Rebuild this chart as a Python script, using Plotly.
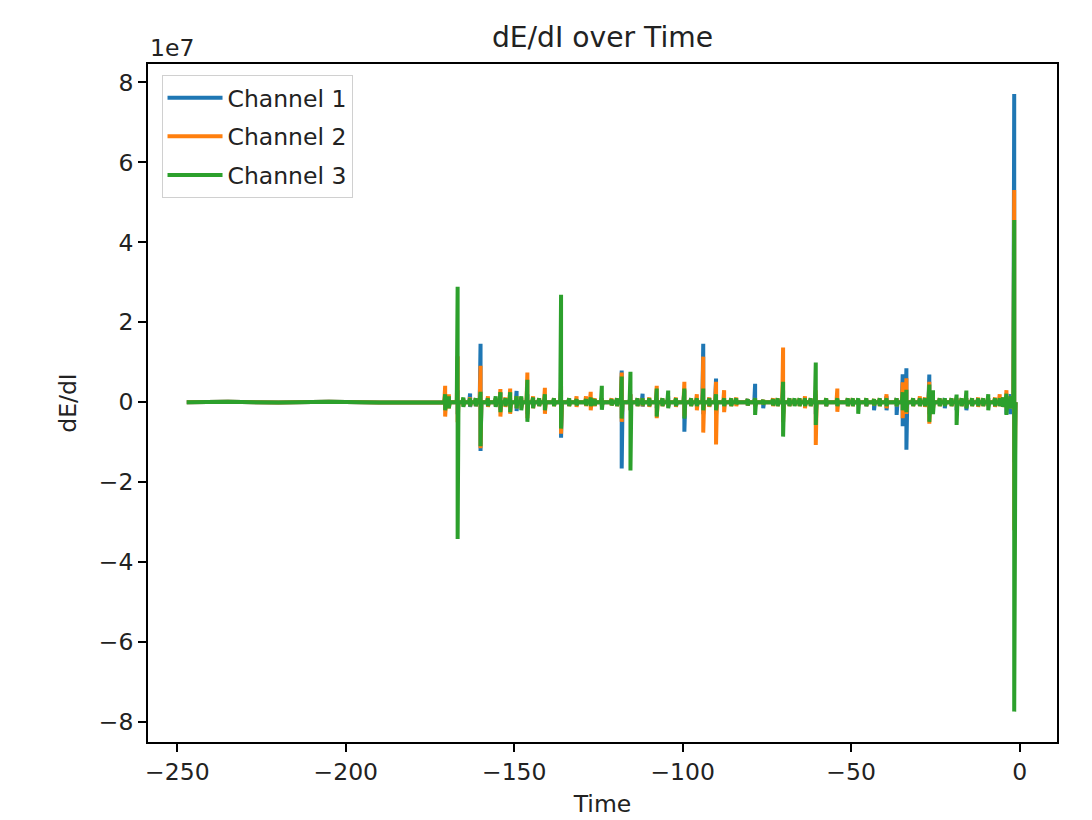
import plotly.graph_objects as go

SCALE = 1e7

# Quiet segment before activity (time, value in 1e7 units, all channels)
quiet_t = [-247.2, -235.0, -220.0, -205.0, -190.0, -178.0, -172.0]
quiet_v = [0.0, 0.01, -0.01, 0.01, -0.01, 0.01, 0.0]

# Spike events: times and per-channel (high, low) excursions in units of 1e7
spike_t = [-170.5, -169.4, -166.8, -165.1, -163.1, -161.4, -160.0, -157.8, -155.5, -154.1,
           -152.6, -151.2, -149.3, -147.9, -146.1, -144.4, -142.6, -140.9, -138.2, -136.1,
           -133.7, -131.5, -128.7, -127.3, -126.1, -124.0, -121.1, -119.5, -118.1, -115.5,
           -113.4, -111.9, -109.9, -107.7, -106.0, -104.3, -102.0, -99.5, -97.5, -95.8,
           -93.9, -92.1, -90.1, -87.7, -85.6, -84.1, -80.7, -78.5, -76.1, -73.2,
           -71.8, -70.2, -68.3, -66.8, -65.3, -63.7, -62.0, -60.5, -57.4, -54.1,
           -51.0, -49.5, -47.9, -45.5, -43.2, -41.5, -39.5, -36.5, -34.7, -33.6,
           -31.6, -29.6, -28.1, -26.8, -25.7, -23.7, -22.2, -20.2, -18.7, -17.2,
           -15.8, -14.1, -12.3, -10.8, -9.3, -7.3, -5.9, -4.9, -3.9, -2.6,
           -1.6]

ch1_hi = [0.10, 0.15, 0.30, 0.08, 0.22, 0.10, 1.46, 0.10, 0.08, 0.25,
          0.08, 0.10, 0.28, 0.10, 0.20, 0.10, 0.08, 0.10, 0.08, 0.30,
          0.08, 0.06, 0.06, 0.10, 0.06, 0.10, 0.06, 0.08, 0.79, 0.20,
          0.08, 0.21, 0.08, 0.10, 0.08, 0.15, 0.08, 0.30, 0.08, 0.10,
          1.46, 0.10, 0.59, 0.10, 0.08, 0.06, 0.08, 0.46, 0.05, 0.06,
          0.08, 0.30, 0.08, 0.06, 0.08, 0.08, 0.08, 0.20, 0.08, 0.08,
          0.08, 0.08, 0.06, 0.08, 0.05, 0.08, 0.15, 0.10, 0.70, 0.85,
          0.08, 0.08, 0.10, 0.69, 0.10, 0.08, 0.10, 0.08, 0.10, 0.08,
          0.10, 0.08, 0.08, 0.08, 0.10, 0.08, 0.08, 0.10, 0.15, 0.20,
          7.71]
ch1_lo = [-0.10, -0.10, -0.30, -0.08, -0.12, -0.10, -1.22, -0.10, -0.08, -0.20,
          -0.08, -0.10, -0.22, -0.10, -0.30, -0.10, -0.08, -0.10, -0.08, -0.89,
          -0.08, -0.06, -0.06, -0.05, -0.06, -0.10, -0.06, -0.08, -1.66, -0.20,
          -0.08, -0.11, -0.08, -0.15, -0.08, -0.11, -0.10, -0.74, -0.08, -0.10,
          -0.30, -0.10, -0.30, -0.10, -0.08, -0.06, -0.08, -0.10, -0.15, -0.06,
          -0.08, -0.30, -0.08, -0.06, -0.08, -0.08, -0.08, -0.30, -0.10, -0.08,
          -0.08, -0.08, -0.06, -0.10, -0.20, -0.08, -0.20, -0.32, -0.60, -1.19,
          -0.08, -0.08, -0.10, -0.30, -0.10, -0.08, -0.15, -0.08, -0.20, -0.08,
          -0.20, -0.08, -0.08, -0.08, -0.10, -0.08, -0.08, -0.10, -0.30, -0.30,
          -1.50]

ch2_hi = [0.41, 0.20, 1.15, 0.10, 0.12, 0.10, 0.91, 0.15, 0.10, 0.33,
          0.12, 0.34, 0.15, 0.12, 0.74, 0.15, 0.10, 0.36, 0.10, 0.40,
          0.10, 0.15, 0.15, 0.26, 0.10, 0.10, 0.10, 0.10, 0.74, 0.20,
          0.10, 0.10, 0.12, 0.41, 0.10, 0.10, 0.12, 0.51, 0.10, 0.20,
          1.14, 0.12, 0.51, 0.30, 0.10, 0.12, 0.08, 0.10, 0.06, 0.10,
          0.10, 1.37, 0.10, 0.08, 0.10, 0.15, 0.10, 0.30, 0.10, 0.34,
          0.10, 0.10, 0.08, 0.10, 0.08, 0.10, 0.20, 0.10, 0.50, 0.60,
          0.10, 0.15, 0.12, 0.51, 0.15, 0.10, 0.08, 0.10, 0.10, 0.10,
          0.10, 0.10, 0.12, 0.10, 0.10, 0.12, 0.20, 0.12, 0.30, 0.15,
          5.31]
ch2_lo = [-0.36, -0.15, -0.50, -0.10, -0.10, -0.10, -1.15, -0.12, -0.10, -0.36,
          -0.12, -0.29, -0.15, -0.15, -0.40, -0.15, -0.10, -0.29, -0.10, -0.79,
          -0.10, -0.12, -0.10, -0.20, -0.10, -0.10, -0.08, -0.10, -0.49, -0.20,
          -0.10, -0.10, -0.12, -0.40, -0.10, -0.10, -0.12, -0.35, -0.10, -0.20,
          -0.76, -0.12, -1.06, -0.25, -0.10, -0.10, -0.08, -0.10, -0.06, -0.10,
          -0.10, -0.50, -0.10, -0.08, -0.10, -0.15, -0.10, -1.07, -0.10, -0.24,
          -0.10, -0.10, -0.08, -0.10, -0.08, -0.10, -0.15, -0.10, -0.40, -0.29,
          -0.10, -0.10, -0.12, -0.54, -0.15, -0.10, -0.08, -0.10, -0.10, -0.10,
          -0.10, -0.10, -0.12, -0.10, -0.10, -0.12, -0.10, -0.12, -0.15, -0.15,
          -3.20]

ch3_hi = [0.20, 0.15, 2.89, 0.12, 0.10, 0.10, 0.26, 0.10, 0.15, 0.25,
          0.10, 0.25, 0.15, 0.15, 0.56, 0.12, 0.10, 0.20, 0.10, 2.69,
          0.10, 0.08, 0.08, 0.12, 0.08, 0.41, 0.08, 0.10, 0.64, 0.76,
          0.10, 0.10, 0.10, 0.34, 0.10, 0.29, 0.10, 0.34, 0.10, 0.10,
          0.34, 0.10, 0.20, 0.10, 0.10, 0.10, 0.08, 0.10, 0.06, 0.08,
          0.10, 0.51, 0.10, 0.10, 0.10, 0.10, 0.10, 0.99, 0.10, 0.10,
          0.10, 0.10, 0.10, 0.10, 0.08, 0.10, 0.10, 0.10, 0.25, 0.31,
          0.10, 0.10, 0.10, 0.44, 0.30, 0.10, 0.10, 0.10, 0.19, 0.10,
          0.29, 0.10, 0.10, 0.10, 0.20, 0.10, 0.10, 0.12, 0.21, 0.15,
          4.56]
ch3_lo = [-0.20, -0.15, -3.42, -0.12, -0.10, -0.10, -1.10, -0.10, -0.12, -0.25,
          -0.10, -0.25, -0.15, -0.20, -0.49, -0.15, -0.10, -0.20, -0.10, -0.66,
          -0.10, -0.08, -0.08, -0.10, -0.08, -0.19, -0.08, -0.10, -0.41, -1.71,
          -0.10, -0.08, -0.10, -0.36, -0.10, -0.15, -0.10, -0.41, -0.10, -0.10,
          -0.20, -0.10, -0.20, -0.10, -0.10, -0.05, -0.08, -0.32, -0.06, -0.08,
          -0.10, -0.86, -0.10, -0.10, -0.10, -0.10, -0.10, -0.57, -0.10, -0.10,
          -0.10, -0.10, -0.29, -0.10, -0.08, -0.10, -0.10, -0.10, -0.20, -0.25,
          -0.10, -0.10, -0.10, -0.49, -0.30, -0.10, -0.10, -0.10, -0.57, -0.10,
          -0.16, -0.10, -0.10, -0.10, -0.20, -0.10, -0.10, -0.12, -0.32, -0.15,
          -7.74]

end_t = -1.2

y_tickvals = [-8, -6, -4, -2, 0, 2, 4, 6, 8]
y_ticktext = ["\u22128", "\u22126", "\u22124", "\u22122", "0", "2", "4", "6", "8"]
x_tickvals = [-250, -200, -150, -100, -50, 0]
x_ticktext = ["\u2212250", "\u2212200", "\u2212150", "\u2212100", "\u221250", "0"]

names = ["Channel 1", "Channel 2", "Channel 3"]
colors = ["#1f77b4", "#ff7f0e", "#2ca02c"]
series = [(ch1_hi, ch1_lo), (ch2_hi, ch2_lo), (ch3_hi, ch3_lo)]


def build_path(hi, lo):
    xs = list(quiet_t)
    ys = [v * SCALE for v in quiet_v]
    for t, h, l in zip(spike_t, hi, lo):
        xs += [t - 0.25, t, t, t + 0.25]
        ys += [0.0, h * SCALE, l * SCALE, 0.0]
    xs.append(end_t)
    ys.append(0.0)
    return xs, ys


FONT = "DejaVu Sans"
FS = 23.5
fig = go.Figure()
for name, col, (hi, lo) in zip(names, colors, series):
    xs, ys = build_path(hi, lo)
    fig.add_trace(go.Scatter(x=xs, y=ys, mode="lines", name=name, legendgroup=name,
                             line=dict(color=col, width=4)))

axis_common = dict(showgrid=False, zeroline=False, showline=True, linecolor="black",
                   linewidth=1.7, mirror=True, ticks="outside", ticklen=8, tickwidth=1.7,
                   tickcolor="black", tickfont=dict(family=FONT, size=FS, color="#222"),
                   automargin=False)

fig.update_layout(
    width=1092, height=820,
    margin=dict(l=148, r=35, t=64, b=78),
    paper_bgcolor="white", plot_bgcolor="white",
    font=dict(family=FONT, color="#222"),
    title=dict(text="dE/dI over Time", x=0.5, xref="paper", xanchor="center",
               y=1 - 37 / 820, yref="container", yanchor="middle",
               font=dict(family=FONT, size=28.2, color="#222")),
    xaxis=dict(range=[-258.7, 11.1], tickvals=x_tickvals, ticktext=x_ticktext,
               title=dict(text="Time", font=dict(family=FONT, size=FS, color="#222"), standoff=11),
               **axis_common),
    yaxis=dict(range=[-8.50 * SCALE, 8.46 * SCALE],
               tickvals=[v * SCALE for v in y_tickvals], ticktext=y_ticktext,
               title=dict(text="dE/dI", font=dict(family=FONT, size=FS, color="#222"), standoff=16),
               **axis_common),
    legend=dict(x=(161 - 148) / 874, y=1 - (75 - 64) / 678, xanchor="left", yanchor="top",
                bgcolor="white", bordercolor="#d0d0d0", borderwidth=1,
                font=dict(family=FONT, size=FS, color="#222"),
                itemwidth=55, tracegroupgap=5, traceorder="grouped"),
    showlegend=True,
)
fig.add_annotation(text="1e7", x=0, xref="paper", xanchor="left", y=1 + (64 - 48) / 678, yref="paper",
                   yanchor="middle", showarrow=False,
                   font=dict(family=FONT, size=FS, color="#222"))

fig.write_html("out.html")
